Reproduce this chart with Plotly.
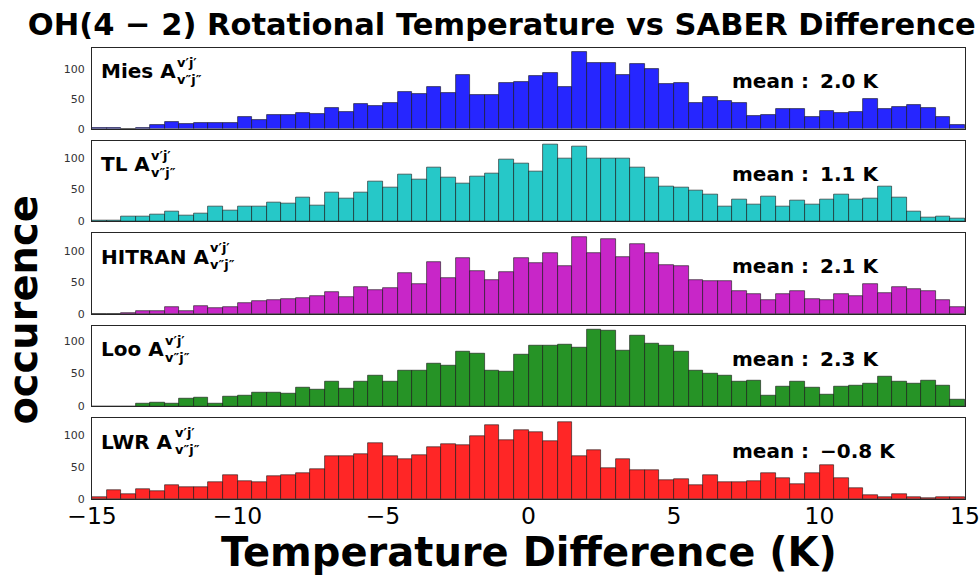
import numpy as np
import plotly.graph_objects as go
from plotly.subplots import make_subplots

# Histogram bins: 0.5 K wide from -15 K to 15 K
bin_edges = np.arange(-15.0, 15.0 + 0.25, 0.5)
bin_centers = (bin_edges[:-1] + bin_edges[1:]) / 2

mies_counts = [1, 2, 0, 2, 6, 11, 8, 10, 9, 10,
               20, 15, 24, 24, 27, 25, 35, 28, 42, 39,
               43, 62, 58, 70, 60, 91, 56, 57, 77, 79,
               89, 93, 70, 129, 111, 110, 91, 108, 101, 75,
               76, 44, 53, 47, 43, 22, 23, 34, 33, 19,
               30, 26, 28, 50, 33, 37, 40, 35, 19, 6]
tl_counts = [2, 2, 8, 8, 11, 16, 9, 12, 23, 17,
             23, 23, 30, 28, 37, 25, 45, 36, 45, 62,
             53, 73, 66, 84, 69, 60, 71, 75, 97, 91,
             79, 121, 99, 117, 98, 98, 99, 84, 69, 54,
             53, 49, 42, 23, 34, 27, 39, 23, 32, 27,
             34, 42, 34, 36, 54, 37, 16, 6, 8, 4]
hitran_counts = [0, 0, 2, 4, 5, 11, 4, 12, 10, 11,
                 17, 21, 22, 24, 25, 28, 34, 27, 43, 38,
                 41, 64, 47, 82, 56, 88, 68, 53, 66, 89,
                 81, 97, 76, 122, 97, 118, 90, 110, 96, 77,
                 76, 54, 52, 52, 36, 31, 22, 31, 36, 24,
                 22, 31, 28, 47, 33, 42, 39, 36, 22, 11]
loo_counts = [0, 0, 0, 4, 6, 5, 12, 14, 5, 15,
              16, 21, 21, 19, 29, 26, 37, 27, 37, 47,
              38, 54, 54, 65, 62, 84, 81, 55, 53, 79,
              92, 93, 94, 90, 117, 115, 85, 107, 96, 92,
              84, 55, 50, 47, 38, 40, 17, 30, 37, 29,
              18, 30, 32, 35, 45, 38, 34, 40, 31, 11]
lwr_counts = [3, 14, 8, 15, 13, 21, 19, 18, 26, 38,
              28, 27, 36, 38, 41, 47, 67, 68, 71, 88,
              68, 62, 69, 81, 86, 85, 98, 116, 93, 108,
              105, 91, 121, 67, 76, 48, 62, 45, 46, 29,
              31, 21, 38, 27, 27, 28, 41, 33, 23, 41,
              53, 33, 17, 6, 3, 7, 3, 1, 3, 3]

series_names = ["Mies", "TL", "HITRAN", "Loo", "LWR"]
series_counts = [mies_counts, tl_counts, hitran_counts, loo_counts, lwr_counts]
series_means = [2.0, 1.1, 2.1, 2.3, -0.8]
series_colors = ["#2626ff", "#26c8c8", "#c826c8", "#269326", "#ff2626"]

x_ticks = [-15, -10, -5, 0, 5, 10, 15]
y_ticks = [0, 50, 100]

FONT = "DejaVu Sans"
AXIS_COLOR = "#262626"
LABEL_SIZE = 20
SCRIPT_SIZE = 13

# DejaVu Sans Bold advance widths (em) used to place the A's sub/superscripts
BOLD_ADV = {"M": 0.995, "i": 0.343, "e": 0.678, "s": 0.595, "T": 0.682,
            "L": 0.637, "H": 0.837, "I": 0.372, "R": 0.770, "A": 0.774,
            "N": 0.837, "o": 0.687, "W": 1.103, " ": 0.348}


def text_width(s, size):
    return sum(BOLD_ADV.get(ch, 0.65) for ch in s) * size


fig = make_subplots(rows=5, cols=1, shared_xaxes=True, vertical_spacing=0.026)

label_x = 0.008
for i, (name, counts, mean, color) in enumerate(
        zip(series_names, series_counts, series_means, series_colors)):
    row = i + 1
    fig.add_trace(
        go.Bar(x=bin_centers, y=counts, width=0.5,
               marker=dict(color=color, line=dict(color="rgba(20,20,20,0.75)", width=0.8)),
               name=name, showlegend=False),
        row=row, col=1)
    fig.update_yaxes(range=[0, max(counts) * 1.05], tickvals=y_ticks,
                     row=row, col=1)

    suffix = "" if row == 1 else str(row)
    xd, yd = f"x{suffix} domain", f"y{suffix} domain"
    label_font = dict(family=FONT, size=LABEL_SIZE, color="black", weight="bold")
    script_font = dict(family=FONT, size=SCRIPT_SIZE, color="black", weight="bold")
    main = f"{name} A"
    fig.add_annotation(text=main, xref=xd, yref=yd,
                       x=label_x, y=0.71, xanchor="left", yanchor="middle",
                       showarrow=False, font=label_font)
    shift = text_width(main, LABEL_SIZE) + 1
    fig.add_annotation(text="v′j′", xref=xd, yref=yd, x=label_x, xshift=shift,
                       y=0.82, xanchor="left", yanchor="middle",
                       showarrow=False, font=script_font)
    fig.add_annotation(text="v″j″", xref=xd, yref=yd, x=label_x, xshift=shift,
                       y=0.61, xanchor="left", yanchor="middle",
                       showarrow=False, font=script_font)
    mean_txt = f"{mean:.1f}".replace("-", "\u2212")
    fig.add_annotation(text=f"mean\u00a0:\u00a0\u2009{mean_txt}\u00a0K", xref=xd, yref=yd,
                       x=0.731, y=0.59, xanchor="left", yanchor="middle",
                       showarrow=False, font=label_font)

fig.update_xaxes(range=[-15, 15], tickvals=x_ticks, showgrid=False, zeroline=False,
                 showline=True, mirror=True, linecolor=AXIS_COLOR, linewidth=1,
                 ticks="", ticklabeloverflow="allow", automargin=False,
                 ticklabelstandoff=-4,
                 tickfont=dict(family=FONT, size=23.5, color="black"))
fig.update_yaxes(showgrid=False, zeroline=False, showline=True, mirror=True,
                 linecolor=AXIS_COLOR, linewidth=1, ticks="", ticklabelstandoff=4,
                 automargin=False,
                 tickfont=dict(family=FONT, size=11, color="#333333"))

fig.add_annotation(text="occurence", xref="paper", yref="paper", x=-0.079, y=0.42,
                   textangle=-90, showarrow=False, xanchor="center", yanchor="middle",
                   font=dict(family=FONT, size=40, color="black", weight="bold"))
fig.add_annotation(text="Temperature Difference (K)", xref="paper", yref="paper",
                   x=0.5, y=-0.1175, showarrow=False, xanchor="center", yanchor="middle",
                   font=dict(family=FONT, size=40, color="black", weight="bold"))

fig.update_layout(
    width=980, height=576,
    margin=dict(l=92, r=15, t=48, b=77),
    paper_bgcolor="white", plot_bgcolor="white",
    bargap=0,
    title=dict(text="OH(4 \u2212 2) Rotational Temperature vs SABER Difference",
               x=0.512, xanchor="center", y=0.957, yanchor="middle",
               font=dict(family=FONT, size=30.5, color="black", weight="bold")),
)

fig.write_html("out.html")
